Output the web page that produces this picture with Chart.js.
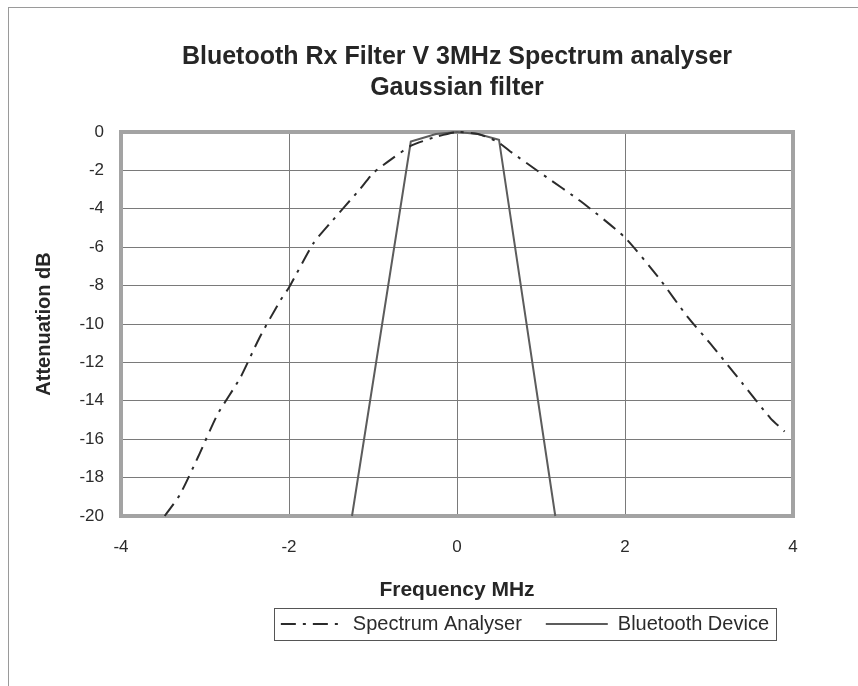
<!DOCTYPE html>
<html>
<head>
<meta charset="utf-8">
<script src="https://cdn.jsdelivr.net/npm/chart.js@4"></script>
<style>
  html, body { margin: 0; padding: 0; background: #fff; }
  #wrap { width: 858px; height: 686px; }
</style>
</head>
<body>
<div id="wrap"><canvas id="filterChart" width="858" height="686"></canvas></div>
<script>
// values
const spectrumFreq = [-3.48, -3.30, -3.08, -2.85, -2.58, -2.35, -2.10, -2.00, -1.71, -1.50, -1.16, -1.00, -0.76, -0.54, -0.25, 0.00, 0.25, 0.48, 0.63, 1.00, 1.50, 2.00, 2.42, 2.74, 3.05, 3.40, 3.73, 3.90];
const spectrumAtten = [-20.0, -18.9, -16.9, -14.7, -12.8, -10.7, -8.75, -8.1, -5.8, -4.7, -3.0, -2.15, -1.35, -0.7, -0.25, 0.0, -0.1, -0.5, -1.0, -2.15, -3.7, -5.5, -7.7, -9.6, -11.2, -13.1, -14.9, -15.6];

const bluetoothFreq = [-1.25, -0.55, -0.25, 0.00, 0.25, 0.50, 1.17];
const bluetoothAtten = [-20.0, -0.5, -0.1, 0.0, -0.1, -0.4, -20.0];

const seriesNames = ['Spectrum Analyser', 'Bluetooth Device'];
const titleLines = ['Bluetooth Rx Filter V 3MHz Spectrum analyser', 'Gaussian filter'];

const FONT = 'Liberation Sans, Arial, sans-serif';

const toPoints = (xs, ys) => xs.map((x, i) => ({ x: x, y: ys[i] }));

// frame around the plot area and the whole chart, plus box round the legend
const framePlugin = {
    id: 'frames',
    beforeDatasetsDraw(chart) {
        const { ctx, chartArea } = chart;
        ctx.save();
        ctx.strokeStyle = '#a3a3a3';
        ctx.lineWidth = 4;
        ctx.strokeRect(chartArea.left, chartArea.top, chartArea.right - chartArea.left, chartArea.bottom - chartArea.top);
        ctx.restore();
    },
    afterDraw(chart) {
        const { ctx } = chart;
        ctx.save();
        ctx.strokeStyle = '#9a9a9a';
        ctx.lineWidth = 1;
        ctx.strokeRect(8.5, 7.5, 900, 720);
        // legend box
        const boxes = chart.legend.legendHitBoxes;
        if (boxes && boxes.length) {
            const left = Math.min(...boxes.map(b => b.left)) - 7;
            const right = Math.max(...boxes.map(b => b.left + b.width)) + 7;
            const top = boxes[0].top - 6;
            const bottom = boxes[0].top + boxes[0].height + 6;
            ctx.strokeStyle = '#555';
            ctx.strokeRect(Math.round(left) + 0.5, Math.round(top) + 0.5, Math.round(right - left), Math.round(bottom - top));
        }
        ctx.restore();
    }
};

const ctx = document.getElementById('filterChart').getContext('2d');
new Chart(ctx, {
    type: 'scatter',
    data: {
        datasets: [
            {
                label: seriesNames[0],
                data: toPoints(spectrumFreq, spectrumAtten),
                showLine: true,
                borderColor: '#2b2b2b',
                backgroundColor: '#2b2b2b',
                borderWidth: 2,
                borderDash: [15, 7, 3, 7],
                pointRadius: 0,
                tension: 0.2,
                clip: 4,
                pointStyle: 'line'
            },
            {
                label: seriesNames[1],
                data: toPoints(bluetoothFreq, bluetoothAtten),
                showLine: true,
                borderColor: '#5c5c5c',
                backgroundColor: '#5c5c5c',
                borderWidth: 2,
                pointRadius: 0,
                tension: 0,
                clip: 4,
                pointStyle: 'line'
            }
        ]
    },
    options: {
        responsive: false,
        animation: false,
        layout: { padding: { left: 56, right: 0, top: 0, bottom: 42 } },
        plugins: {
            tooltip: { enabled: false },
            title: {
                display: true,
                text: titleLines,
                color: '#262626',
                font: { family: FONT, size: 25, weight: 'bold', lineHeight: 31 / 25 },
                padding: { top: 42, bottom: 28 }
            },
            legend: {
                position: 'bottom',
                align: 'end',
                fullSize: false,
                labels: {
                    usePointStyle: true,
                    pointStyleWidth: 62,
                    color: '#2b2b2b',
                    padding: 24,
                    font: { family: FONT, size: 20 },
                    // point style legend items lose the dash, so copy it from the dataset
                    generateLabels(chart) {
                        const items = Chart.defaults.plugins.legend.labels.generateLabels(chart);
                        items.forEach(item => {
                            const ds = chart.data.datasets[item.datasetIndex];
                            item.lineDash = ds.borderDash || [];
                            item.lineWidth = ds.borderWidth;
                            item.strokeStyle = ds.borderColor;
                        });
                        return items;
                    }
                }
            }
        },
        scales: {
            x: {
                type: 'linear',
                min: -4,
                max: 4,
                ticks: {
                    stepSize: 2,
                    color: '#2b2b2b',
                    padding: 21,
                    font: { family: FONT, size: 17 }
                },
                grid: { color: '#7a7a7a', lineWidth: 1, drawTicks: false },
                border: { display: false },
                title: {
                    display: true,
                    text: 'Frequency MHz',
                    color: '#262626',
                    font: { family: FONT, size: 21, weight: 'bold' },
                    padding: { top: 0, bottom: -12.6 }
                },
                afterFit(scale) { scale.height = 74; }
            },
            y: {
                type: 'linear',
                min: -20,
                max: 0,
                ticks: {
                    stepSize: 2,
                    color: '#2b2b2b',
                    padding: 17,
                    font: { family: FONT, size: 17 }
                },
                grid: { color: '#7a7a7a', lineWidth: 1, drawTicks: false },
                border: { display: false },
                title: {
                    display: true,
                    text: 'Attenuation dB',
                    color: '#262626',
                    font: { family: FONT, size: 20, weight: 'bold' },
                    padding: { top: -24, bottom: 0 }
                },
                afterFit(scale) { scale.width = 65; }
            },
            // empty right-hand axis, only keeps the plot clear of the right margin
            yRight: {
                type: 'linear',
                position: 'right',
                min: 0,
                max: 1,
                ticks: { display: false },
                grid: { display: false },
                border: { display: false },
                afterFit(scale) { scale.width = 65; }
            }
        }
    },
    plugins: [framePlugin]
});
</script>
</body>
</html>
